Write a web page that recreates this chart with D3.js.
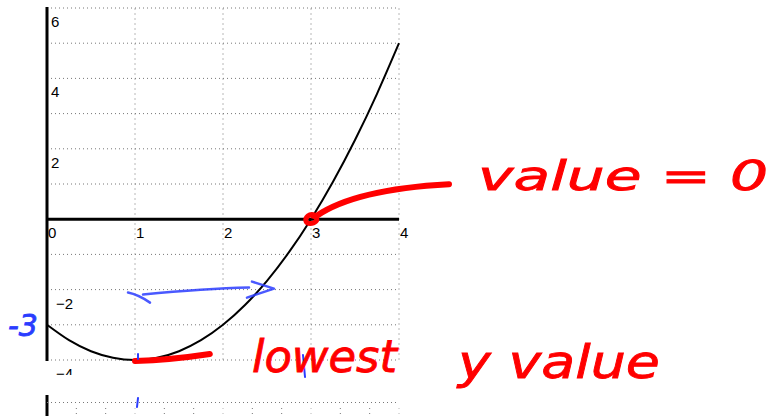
<!DOCTYPE html>
<html>
<head>
<meta charset="utf-8">
<script src="https://cdn.jsdelivr.net/npm/d3@7"></script>
<style>
  html, body { margin: 0; padding: 0; background: #fff; }
  svg { display: block; }
</style>
</head>
<body>
<svg id="chart" width="773" height="416"></svg>
<script>
// Curve samples of y = x^2 - 2x - 3 on [0, 4]
const curveX = [0, 0.25, 0.5, 0.75, 1, 1.25, 1.5, 1.75, 2, 2.25, 2.5, 2.75, 3, 3.25, 3.5, 3.75, 4];
const curveY = [-3, -3.4375, -3.75, -3.9375, -4, -3.9375, -3.75, -3.4375, -3, -2.4375, -1.75, -0.9375, 0, 1.0625, 2.25, 3.5625, 5];

// Axis ticks
const xTicks = [0, 1, 2, 3, 4];
const yTickLabels = [6, 4, 2, -2, -4];
const yGrid = [-4, -3, -2, -1, 1, 2, 3, 4, 5, 6];
const xGrid = [1, 2, 3, 4];
const xMinorGrid = [1/3, 2/3, 1, 4/3, 5/3, 2, 7/3, 8/3, 3, 10/3, 11/3, 4];

const svg = d3.select("#chart");
const x = d3.scaleLinear().domain([0, 4]).range([47, 399]);
const y = d3.scaleLinear().domain([-4, 6]).range([360, 8]);

const plot = svg.append("g");
plot.append("clipPath").attr("id", "clipTop")
  .append("rect").attr("x", 0).attr("y", 0).attr("width", 773).attr("height", 375);
const main = plot.append("g").attr("clip-path", "url(#clipTop)");

// vertical grid
main.selectAll("line.vg").data(xGrid).join("line")
  .attr("x1", d => x(d)).attr("x2", d => x(d))
  .attr("y1", y(6)).attr("y2", y(-4))
  .attr("stroke", "#b8b8b8").attr("stroke-width", 1)
  .attr("stroke-dasharray", "2,3");

// horizontal grid
main.selectAll("line.hg").data(yGrid).join("line")
  .attr("x1", x(0)).attr("x2", x(4))
  .attr("y1", d => y(d)).attr("y2", d => y(d))
  .attr("stroke", "#777").attr("stroke-width", 1)
  .attr("stroke-dasharray", "1,3");

// axes
main.append("line")
  .attr("x1", x(0)).attr("x2", x(0)).attr("y1", y(6) - 1).attr("y2", y(-4) + 1)
  .attr("stroke", "#000").attr("stroke-width", 3);
main.append("line")
  .attr("x1", x(0)).attr("x2", x(4)).attr("y1", y(0)).attr("y2", y(0))
  .attr("stroke", "#000").attr("stroke-width", 3);

// tick labels
main.selectAll("text.xt").data(xTicks).join("text")
  .attr("x", d => x(d) + 1).attr("y", y(0) + 19)
  .attr("font-family", "Liberation Sans, Arial, sans-serif").attr("font-size", 15)
  .attr("fill", "#000").text(d => d);
main.selectAll("text.yt").data(yTickLabels).join("text")
  .attr("x", d => x(0) + (d < 0 ? 9 : 4)).attr("y", d => y(d) + 19)
  .attr("font-family", "Liberation Sans, Arial, sans-serif").attr("font-size", 15)
  .attr("fill", "#000").text(d => d < 0 ? "\u2212" + Math.abs(d) : d);

// the parabola
const pts = curveX.map((v, i) => [v, curveY[i]]);
main.append("path")
  .datum(pts)
  .attr("d", d3.line().x(d => x(d[0])).y(d => y(d[1])).curve(d3.curveNatural))
  .attr("fill", "none").attr("stroke", "#000").attr("stroke-width", 2);

// lower panel (top edge of the next plot)
const lower = svg.append("g");
lower.append("line")
  .attr("x1", x(0)).attr("x2", x(0)).attr("y1", 395).attr("y2", 416)
  .attr("stroke", "#000").attr("stroke-width", 3);
lower.append("line")
  .attr("x1", x(0)).attr("x2", x(4)).attr("y1", 402.5).attr("y2", 402.5)
  .attr("stroke", "#777").attr("stroke-width", 1).attr("stroke-dasharray", "1,3");
lower.selectAll("line.mg").data(xMinorGrid).join("line")
  .attr("x1", d => x(d)).attr("x2", d => x(d))
  .attr("y1", 408).attr("y2", 416)
  .attr("stroke", d => Number.isInteger(d) ? "#b8b8b8" : "#777")
  .attr("stroke-width", 1).attr("stroke-dasharray", "1,4");

// red pen annotations
const red = "#ff0000";
const ann = svg.append("g").attr("fill", "none").attr("stroke-linecap", "round").attr("stroke-linejoin", "round");
// loop around the root at x = 3
ann.append("path")
  .attr("d", `M${x(3) + 4},${y(0) - 4} c-6,-2 -10,2 -9,6 c1,3 7,3 10,0 c2,-2 0,-5 -3,-5`)
  .attr("stroke", red).attr("stroke-width", 5);
ann.append("path")
  .attr("d", `M${x(3) + 5},${y(0) - 3} Q${x(3.5)},${y(0) - 30} ${x(4) + 50},${y(0) - 35}`)
  .attr("stroke", red).attr("stroke-width", 6);
// underline at the minimum
ann.append("path")
  .attr("d", `M${x(1)},${y(-4) + 1} Q${x(1.4)},${y(-4)} ${x(1.85)},${y(-4) - 6}`)
  .attr("stroke", red).attr("stroke-width", 6);

const pen = "DejaVu Sans, sans-serif";
svg.append("text").attr("x", 478).attr("y", 190)
  .attr("font-family", pen).attr("font-size", 40).attr("font-style", "italic")
  .attr("fill", red).attr("stroke", red).attr("stroke-width", 0.8)
  .attr("textLength", 290).attr("lengthAdjust", "spacingAndGlyphs")
  .text("value = 0");
svg.append("text").attr("x", 252).attr("y", 372)
  .attr("font-family", pen).attr("font-size", 44).attr("font-style", "italic")
  .attr("fill", red).attr("stroke", red).attr("stroke-width", 0.8)
  .attr("textLength", 145).attr("lengthAdjust", "spacingAndGlyphs")
  .text("lowest");
svg.append("text").attr("x", 458).attr("y", 378)
  .attr("font-family", pen).attr("font-size", 46).attr("font-style", "italic")
  .attr("fill", red).attr("stroke", red).attr("stroke-width", 0.8)
  .attr("textLength", 202).attr("lengthAdjust", "spacingAndGlyphs")
  .text("y value");

// blue pen annotations
const blue = "#2a3cff";
svg.append("text").attr("x", 8).attr("y", 336)
  .attr("font-family", pen).attr("font-size", 30).attr("font-style", "italic")
  .attr("fill", blue).attr("stroke", blue).attr("stroke-width", 0.8)
  .text("-3");
// start tick of the arrow
ann.append("path")
  .attr("d", `M${x(1) - 7},${y(-2) + 3} Q${x(1) + 3},${y(-2) + 5} ${x(1) + 15},${y(-2) + 13}`)
  .attr("stroke", blue).attr("stroke-width", 2.5).attr("opacity", 0.85);
// arrow shaft
ann.append("path")
  .attr("d", `M${x(1) + 8},${y(-2) + 5} Q${x(1.8)},${y(-2) - 1} ${x(2.5) - 18},${y(-2) - 2}`)
  .attr("stroke", blue).attr("stroke-width", 2.5).attr("opacity", 0.85);
// arrow head
ann.append("path")
  .attr("d", `M${x(2.5) - 15},${y(-2) - 8} L${x(2.5) + 7},${y(-2) - 1} L${x(2.5) - 20},${y(-2) + 8}`)
  .attr("stroke", blue).attr("stroke-width", 2.5).attr("opacity", 0.85);
ann.append("path")
  .attr("d", `M${x(1) + 3},${y(-4) - 6} L${x(1) + 3},${y(-4) - 1}`)
  .attr("stroke", blue).attr("stroke-width", 2);
ann.append("path")
  .attr("d", `M${x(1) + 3},${398} L${x(1) + 2},${407}`)
  .attr("stroke", blue).attr("stroke-width", 2);
ann.append("path")
  .attr("d", `M${x(3) - 8},${y(-4) - 5} L${x(3) - 6},${y(-4) + 17}`)
  .attr("stroke", blue).attr("stroke-width", 2);
</script>
</body>
</html>
